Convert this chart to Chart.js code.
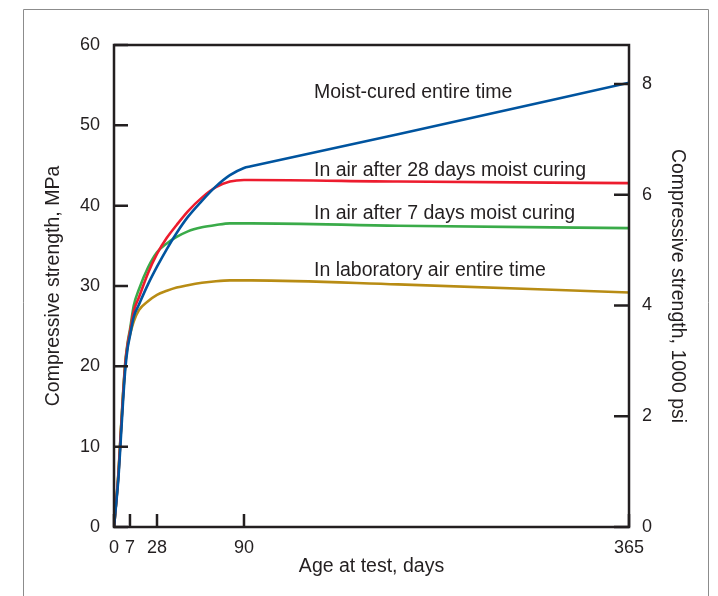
<!DOCTYPE html>
<html>
<head>
<meta charset="utf-8">
<script src="https://cdn.jsdelivr.net/npm/chart.js@4/dist/chart.umd.min.js"></script>
<style>
  body { margin: 0; background: #fff; }
  #wrap { width: 718px; height: 596px; }
</style>
</head>
<body>
<div id="wrap"><canvas id="strengthChart" width="718" height="596"></canvas></div>
<script>
// age at test, days
const days = [0, 1, 2, 3, 4, 5, 6, 7, 10, 14, 21, 28, 35, 42, 50, 60, 70, 80, 90, 95, 200, 365];

// compressive strength, MPa
const moistCured   = [0, 3.0, 6.3, 11.0, 15.8, 19.8, 22.3, 23.8, 26.2, 27.7, 30.2, 32.4, 34.6, 36.6, 38.6, 40.6, 42.4, 43.8, 44.7, 44.9, 48.9, 55.3];
const air28Days    = [0, 3.2, 6.8, 11.8, 16.5, 20.5, 22.8, 24.3, 26.9, 28.6, 31.6, 34.0, 36.0, 37.6, 39.3, 41.0, 42.3, 43.0, 43.2, 43.2, 43.0, 42.8];
const air7Days     = [0, 3.3, 7.0, 12.0, 16.8, 20.7, 23.0, 24.6, 27.6, 29.6, 32.3, 34.2, 35.3, 36.1, 36.8, 37.3, 37.6, 37.8, 37.8, 37.8, 37.5, 37.2];
const labAir       = [0, 3.2, 6.8, 11.8, 16.5, 20.4, 22.6, 23.9, 25.6, 27.0, 28.1, 28.9, 29.4, 29.8, 30.1, 30.4, 30.6, 30.7, 30.7, 30.7, 30.2, 29.2];

const seriesNames  = ['Moist-cured entire time', 'In air after 28 days moist curing', 'In air after 7 days moist curing', 'In laboratory air entire time'];
const seriesColors = ['#00549f', '#ed1c2e', '#3aab49', '#b88c14'];

// tick labels
const dayTicks = [0, 7, 28, 90, 365];
const mpaTicks = [0, 10, 20, 30, 40, 50, 60];
const psiTicks = [0, 2, 4, 6, 8];

const MPA_PER_KSI = 6.895;
const textColor = '#231f20';

// the original x axis is not quite linear near the start
const dayKnots = [0, 7, 28, 90, 365];
const dayFracs = [0, 0.031, 0.0835, 0.2524, 1];

function dayToFrac(v) {
    for (let i = 1; i < dayKnots.length; i++) {
        if (v <= dayKnots[i]) {
            const t = (v - dayKnots[i - 1]) / (dayKnots[i] - dayKnots[i - 1]);
            return dayFracs[i - 1] + t * (dayFracs[i] - dayFracs[i - 1]);
        }
    }
    return 1;
}
function fracToDay(f) {
    for (let i = 1; i < dayFracs.length; i++) {
        if (f <= dayFracs[i]) {
            const t = (f - dayFracs[i - 1]) / (dayFracs[i] - dayFracs[i - 1]);
            return dayKnots[i - 1] + t * (dayKnots[i] - dayKnots[i - 1]);
        }
    }
    return dayKnots[dayKnots.length - 1];
}

class PiecewiseScale extends Chart.LinearScale {
    getPixelForValue(value) {
        if (value === null || value === undefined) return NaN;
        return this.getPixelForDecimal(dayToFrac(value));
    }
    getValueForPixel(pixel) {
        return fracToDay(this.getDecimalForPixel(pixel));
    }
}
PiecewiseScale.id = 'piecewise';
PiecewiseScale.defaults = Chart.LinearScale.defaults;
Chart.register(PiecewiseScale);

const seriesValues = [moistCured, air28Days, air7Days, labAir];

// label anchors in data units (day, MPa at baseline)
const labelDay = 140;
const labelMpa = [53.4, 43.7, 38.3, 31.2];

const framePlugin = {
    id: 'framePlugin',
    beforeDraw(chart) {
        const ctx = chart.ctx;
        ctx.save();
        ctx.strokeStyle = '#8c8c8c';
        ctx.lineWidth = 1;
        ctx.beginPath();
        ctx.moveTo(23.5, chart.height);
        ctx.lineTo(23.5, 9.5);
        ctx.lineTo(708.5, 9.5);
        ctx.lineTo(708.5, chart.height);
        ctx.stroke();
        ctx.restore();
    },
    afterDatasetsDraw(chart) {
        const ctx = chart.ctx;
        const area = chart.chartArea;
        const x = chart.scales.x, y = chart.scales.y, y2 = chart.scales.y2;
        ctx.save();
        ctx.strokeStyle = textColor;
        ctx.lineWidth = 2.5;
        ctx.strokeRect(area.left, area.top, area.right - area.left, area.bottom - area.top);

        ctx.beginPath();
        mpaTicks.forEach(v => {
            const py = y.getPixelForValue(v);
            ctx.moveTo(area.left, py);
            ctx.lineTo(area.left + 14, py);
        });
        psiTicks.forEach(v => {
            const py = y2.getPixelForValue(v);
            ctx.moveTo(area.right, py);
            ctx.lineTo(area.right - 15, py);
        });
        dayTicks.forEach(v => {
            const px = x.getPixelForValue(v);
            ctx.moveTo(px, area.bottom);
            ctx.lineTo(px, area.bottom - 13);
        });
        ctx.stroke();

        // curve labels
        ctx.fillStyle = textColor;
        ctx.font = '19.5px "Liberation Sans", Arial, sans-serif';
        ctx.textAlign = 'left';
        ctx.textBaseline = 'alphabetic';
        seriesNames.forEach((name, i) => {
            ctx.fillText(name, x.getPixelForValue(labelDay), y.getPixelForValue(labelMpa[i]));
        });
        ctx.restore();
    }
};

const tickFont = { family: '"Liberation Sans", Arial, sans-serif', size: 18 };
const titleFont = { family: '"Liberation Sans", Arial, sans-serif', size: 19.5 };

const chartData = {
    datasets: seriesValues.map((vals, i) => ({
        label: seriesNames[i],
        data: days.map((d, j) => ({ x: d, y: vals[j] })),
        borderColor: seriesColors[i],
        borderWidth: 2.6,
        pointRadius: 0,
        fill: false,
        cubicInterpolationMode: 'monotone'
    }))
};

const config = {
    type: 'line',
    data: chartData,
    options: {
        responsive: false,
        animation: false,
        layout: { padding: { top: 45, left: 0, right: 0, bottom: 0 } },
        plugins: {
            legend: { display: false },
            tooltip: { enabled: false }
        },
        scales: {
            x: {
                type: 'piecewise',
                min: 0,
                max: 365,
                afterBuildTicks: scale => { scale.ticks = dayTicks.map(v => ({ value: v })); },
                afterFit: scale => { scale.height = 69; },
                grid: { display: false, drawTicks: false },
                border: { display: false },
                ticks: { color: textColor, font: tickFont, padding: 10, maxRotation: 0, autoSkip: false },
                title: {
                    display: true,
                    text: 'Age at test, days',
                    color: textColor,
                    font: titleFont,
                    padding: { top: 0, bottom: 18 }
                }
            },
            y: {
                position: 'left',
                min: 0,
                max: 60,
                afterBuildTicks: scale => { scale.ticks = mpaTicks.map(v => ({ value: v })); },
                afterFit: scale => { scale.width = 114; },
                grid: { display: false, drawTicks: false },
                border: { display: false },
                ticks: { color: textColor, font: tickFont, padding: 14 },
                title: {
                    display: true,
                    text: 'Compressive strength, MPa',
                    color: textColor,
                    font: titleFont,
                    padding: { top: 42, bottom: 0 }
                }
            },
            y2: {
                position: 'right',
                min: 0,
                max: 60 / MPA_PER_KSI,
                afterBuildTicks: scale => { scale.ticks = psiTicks.map(v => ({ value: v })); },
                afterFit: scale => { scale.width = 89; },
                grid: { display: false, drawTicks: false },
                border: { display: false },
                ticks: { color: textColor, font: tickFont, padding: 13 },
                title: {
                    display: true,
                    text: 'Compressive strength, 1000 psi',
                    color: textColor,
                    font: titleFont,
                    padding: { top: 29, bottom: 0 }
                }
            }
        }
    },
    plugins: [framePlugin]
};

const ctx = document.getElementById('strengthChart').getContext('2d');
const chart = new Chart(ctx, config);
</script>
</body>
</html>
